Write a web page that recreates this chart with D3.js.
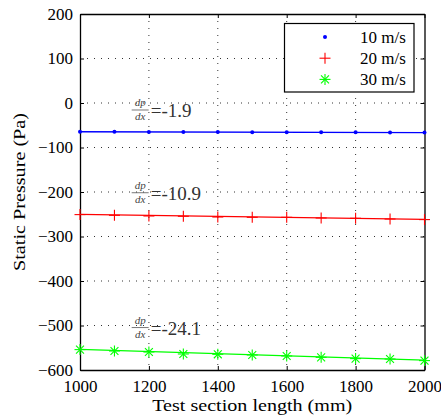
<!DOCTYPE html>
<html>
<head>
<meta charset="utf-8">
<script src="https://cdn.jsdelivr.net/npm/d3@7"></script>
<style>
body { margin: 0; background: #fff; }
text { font-family: "Liberation Serif", serif; fill: #000; }
.grid line { stroke: #000; stroke-width: 1; stroke-dasharray: 1,6; opacity: 0.8; }
</style>
</head>
<body>
<script>
// data
var lengths = [1000, 1100, 1200, 1300, 1400, 1500, 1600, 1700, 1800, 1900, 2000];
var p10 = [-64.6, -64.8, -65.0, -65.2, -65.3, -65.5, -65.6, -65.9, -66.0, -66.2, -66.5];
var p20 = [-250.8, -252.4, -253.9, -254.6, -256.2, -256.9, -256.9, -258.4, -259.1, -260.7, -262.0];
var p30 = [-554.2, -557.3, -559.6, -564.0, -564.7, -566.3, -568.5, -571.5, -574.4, -575.3, -578.9];
var seriesNames = ["10 m/s", "20 m/s", "30 m/s"];
var fitStart = [-64.6, -250.5, -553.5];   // fitted value at 1000 mm
var slopes = [-1.9, -10.9, -24.1];        // Pa per m
var xTicks = [1000, 1200, 1400, 1600, 1800, 2000];
var yTicks = [-600, -500, -400, -300, -200, -100, 0, 100, 200];

var width = 441, height = 419;
var pLeft = 80, pRight = 424.5, pTop = 14, pBottom = 370;
var colors = ["#0000ff", "#ff0000", "#00ff00"];
var series = [p10, p20, p30];
var serif = "'Liberation Serif', serif";

var x = d3.scaleLinear().domain([1000, 2000]).range([pLeft, pRight]);
var y = d3.scaleLinear().domain([-600, 200]).range([pBottom, pTop]);

var svg = d3.select("body").append("svg")
    .attr("width", width).attr("height", height);

// dotted grid
var grid = svg.append("g").attr("class", "grid");
grid.selectAll("line.v").data(xTicks.slice(1, -1)).enter().append("line")
    .attr("x1", function(d){ return x(d); }).attr("x2", function(d){ return x(d); })
    .attr("y1", pTop).attr("y2", pBottom);
grid.selectAll("line.h").data(yTicks.slice(1, -1)).enter().append("line")
    .attr("x1", pLeft).attr("x2", pRight)
    .attr("y1", function(d){ return y(d); }).attr("y2", function(d){ return y(d); });

// axes, ticks pointing inward on all four sides
function fmt(d){ return d < 0 ? "\u2212" + Math.abs(d) : "" + d; }
svg.append("g").attr("transform", "translate(0," + pBottom + ")")
    .call(d3.axisBottom(x).tickValues(xTicks).tickSizeInner(-4).tickSizeOuter(0).tickPadding(10).tickFormat(fmt));
svg.append("g").attr("transform", "translate(0," + pTop + ")")
    .call(d3.axisTop(x).tickValues(xTicks).tickSizeInner(-4).tickSizeOuter(0).tickFormat(""));
svg.append("g").attr("transform", "translate(" + pLeft + ",0)")
    .call(d3.axisLeft(y).tickValues(yTicks).tickSizeInner(-4).tickSizeOuter(0).tickPadding(7).tickFormat(fmt));
svg.append("g").attr("transform", "translate(" + pRight + ",0)")
    .call(d3.axisRight(y).tickValues(yTicks).tickSizeInner(-4).tickSizeOuter(0).tickFormat(""));
svg.selectAll("g").attr("font-family", null);
svg.selectAll(".domain").attr("stroke", "#000").attr("stroke-width", 1.3);
svg.selectAll(".tick line").attr("stroke", "#000");
svg.selectAll(".tick text").style("font-size", "17px").style("font-family", serif);

// fitted lines
var line = d3.line().x(function(d){ return x(d[0]); }).y(function(d){ return y(d[1]); });
fitStart.forEach(function(f, i){
    var pts = [[1000, f], [2000, f + slopes[i]]];
    svg.append("path").attr("d", line(pts))
        .attr("fill", "none").attr("stroke", colors[i]).attr("stroke-width", 1.3);
});

// markers
function marker(g, kind, color){
    if (kind === 0) {
        g.append("circle").attr("r", 2).attr("fill", color);
    } else {
        var s = 5.5, d = s * 0.72;
        var segs = [[-s, 0, s, 0], [0, -s, 0, s]];
        if (kind === 2) segs.push([-d, -d, d, d], [-d, d, d, -d]);
        segs.forEach(function(a){
            g.append("line").attr("x1", a[0]).attr("y1", a[1]).attr("x2", a[2]).attr("y2", a[3])
                .attr("stroke", color).attr("stroke-width", 1.1);
        });
    }
}
series.forEach(function(vals, i){
    svg.append("g").selectAll("g").data(vals).enter().append("g")
        .attr("transform", function(d, j){ return "translate(" + x(lengths[j]) + "," + y(d) + ")"; })
        .each(function(){ marker(d3.select(this), i, colors[i]); });
});

// slope annotations: dp/dx fraction then the value
fitStart.forEach(function(f, i){
    var ax = x(1150), ay = y(f + 50);
    var g = svg.append("g").attr("transform", "translate(" + ax + "," + ay + ")");
    g.append("text").attr("x", 8.5).attr("y", -3).attr("text-anchor", "middle")
        .style("font-size", "11px").style("font-style", "italic").style("fill", "#444").text("dp");
    g.append("line").attr("x1", 0).attr("x2", 17).attr("y1", 0.5).attr("y2", 0.5)
        .attr("stroke", "#555").attr("stroke-width", 0.8);
    g.append("text").attr("x", 8.5).attr("y", 10.5).attr("text-anchor", "middle")
        .style("font-size", "11px").style("font-style", "italic").style("fill", "#444").text("dx");
    g.append("text").attr("x", 19).attr("y", 7.5)
        .style("font-size", "19px").style("fill", "#333").text("=" + slopes[i]);
});

// legend
var lg = svg.append("g");
lg.append("rect").attr("x", 284.5).attr("y", 23.5).attr("width", 129.5).attr("height", 68.5)
    .attr("fill", "#fff").attr("stroke", "#000").attr("stroke-width", 1.2);
seriesNames.forEach(function(name, i){
    var ry = 37 + i * 21.2;
    var m = lg.append("g").attr("transform", "translate(325," + ry + ")");
    marker(m, i, colors[i]);
    lg.append("text").attr("x", 360).attr("y", ry + 6).style("font-size", "17px").text(name);
});

// axis titles
svg.append("text").attr("x", (pLeft + pRight) / 2).attr("y", 411).attr("text-anchor", "middle")
    .attr("textLength", 200).attr("lengthAdjust", "spacingAndGlyphs")
    .style("font-size", "17px").text("Test section length (mm)");
svg.append("text").attr("transform", "translate(25," + ((pTop + pBottom) / 2) + ") rotate(-90)")
    .attr("text-anchor", "middle")
    .attr("textLength", 158).attr("lengthAdjust", "spacingAndGlyphs")
    .style("font-size", "17px").text("Static Pressure (Pa)");
</script>
</body>
</html>
